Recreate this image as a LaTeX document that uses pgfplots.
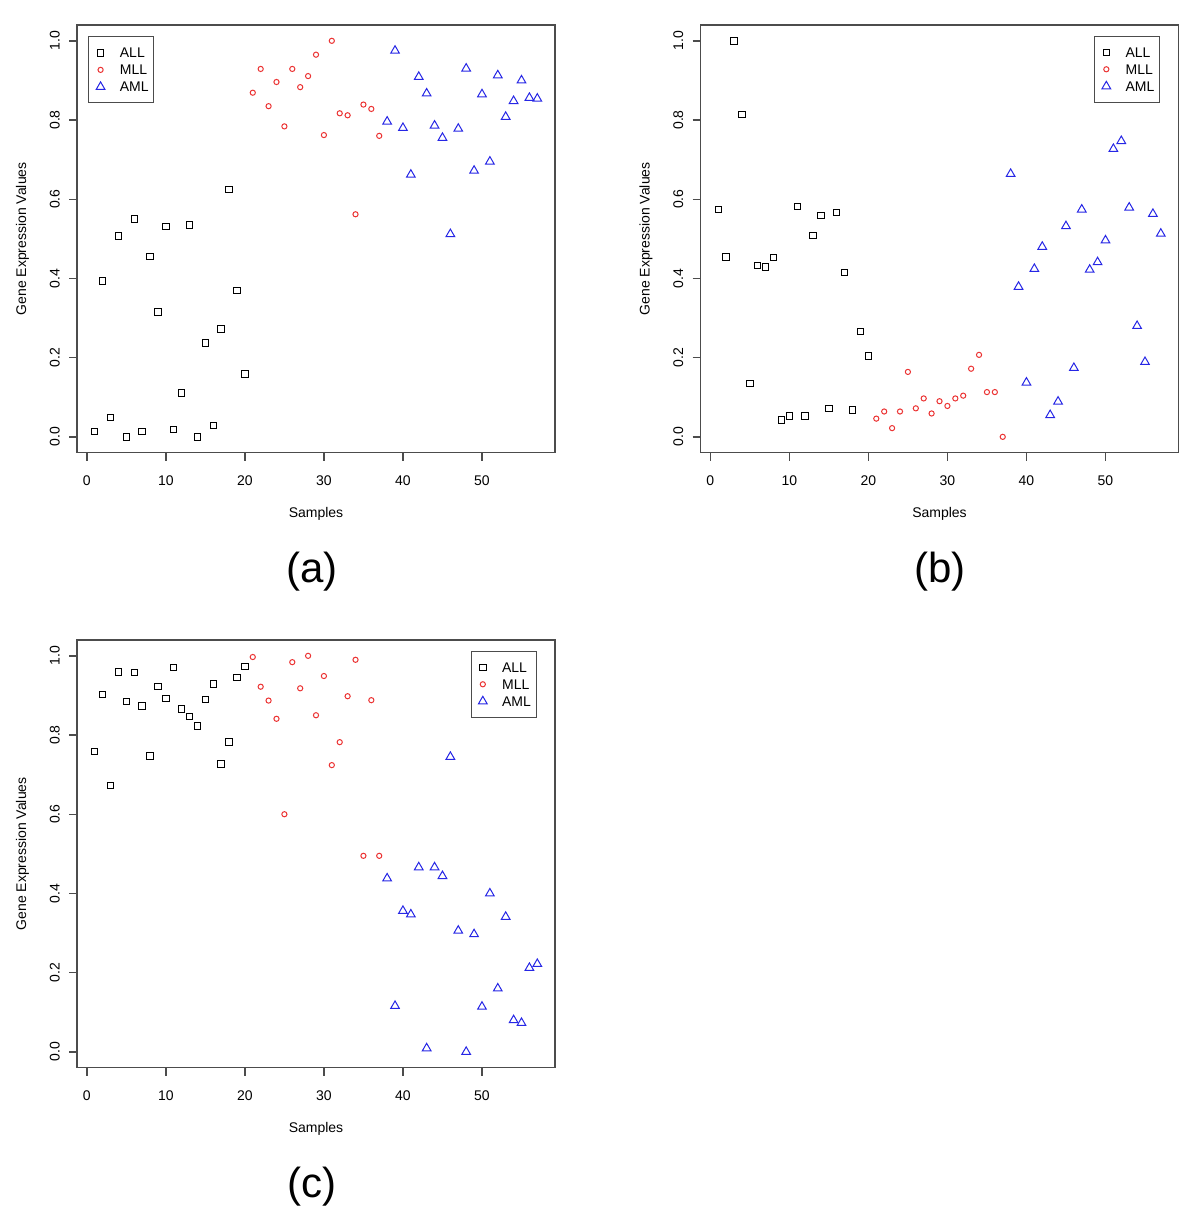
\documentclass[border=0pt]{standalone}
\usepackage{fontspec}
\setmainfont{Liberation Sans}
\usepackage{pgfplots}
\pgfplotsset{compat=1.18}

\definecolor{rred}{rgb}{0.92,0.20,0.20}
\definecolor{rblue}{rgb}{0.15,0.15,0.90}
\definecolor{boxgray}{gray}{0.30}

\pgfplotsset{
  rplot/.style={
    scale only axis, width=239pt, height=213.85pt,
    xmin=-1.24, xmax=59.24, ymin=-0.04, ymax=1.04,
    xtick={0,10,20,30,40,50}, ytick={0,0.2,0.4,0.6,0.8,1},
    yticklabel style={/pgf/number format/fixed,
      /pgf/number format/fixed zerofill, /pgf/number format/precision=1},
    tick pos=left, tick align=outside, major tick length=4pt,
    axis line style={boxgray, line width=0.7pt},
    major tick style={boxgray, line width=0.7pt},
    tick label style={font=\fontsize{7}{8}\selectfont, inner sep=0pt},
    /pgf/number format/assume math mode=true,
    xticklabel style={anchor=north, text depth=0pt},
    yticklabel style={rotate=90, anchor=south, text depth=0pt},
    xticklabel shift=7.5pt, yticklabel shift=4.5pt,
    xlabel=Samples, ylabel=Gene Expression Values,
    every axis x label/.style={at={(axis description cs:0.5,-0.142)}, anchor=center,
      font=\fontsize{7}{8}\selectfont},
    every axis y label/.style={at={(axis description cs:-0.114,0.5)}, anchor=center,
      rotate=90, font=\fontsize{7}{8}\selectfont},
    legend cell align=left,
    legend style={draw=boxgray, line width=0.6pt, fill=white,
      inner xsep=2.6pt, inner ysep=3.75pt, row sep=0pt,
      nodes={inner sep=0pt, text height=6.75pt, text depth=1.75pt,
        font=\fontsize{7}{8}\selectfont}},
  },
  rleg/.style={legend image code/.code={
      \path[draw=none, fill=none] (-3.25pt,-4.25pt) rectangle (9.65pt,4.25pt);
      \draw[##1] plot coordinates {(0pt,0pt)};}},
  sALL/.style={only marks, mark=square, mark size=1.6pt, black, line width=0.5pt, rleg},
  sMLL/.style={only marks, mark=o, mark size=1.3pt, rred, line width=0.5pt, rleg},
  sAML/.style={only marks, mark=triangle, mark size=2.5pt, rblue, line width=0.5pt, rleg},
}

\begin{document}
\begin{tikzpicture}
\useasboundingbox (0,0) rectangle (600pt,612pt);

% (a)
\begin{axis}[rplot, at={(38.5pt,385.65pt)}, anchor=south west,
  legend style={at={(0.0236,0.9736)}, anchor=north west}]
\addplot[sALL] coordinates {(1,0.014)(2,0.394)(3,0.049)(4,0.507)(5,0.0)(6,0.550)(7,0.014)(8,0.456)(9,0.315)(10,0.531)(11,0.018)(12,0.111)(13,0.535)(14,0.0)(15,0.237)(16,0.028)(17,0.272)(18,0.625)(19,0.369)(20,0.159)};
\addlegendentry{ALL}
\addplot[sMLL] coordinates {(21,0.869)(22,0.929)(23,0.835)(24,0.896)(25,0.784)(26,0.929)(27,0.883)(28,0.911)(29,0.965)(30,0.762)(31,1.0)(32,0.817)(33,0.812)(34,0.562)(35,0.839)(36,0.828)(37,0.760)};
\addlegendentry{MLL}
\addplot[sAML] coordinates {(38,0.796)(39,0.975)(40,0.780)(41,0.662)(42,0.909)(43,0.867)(44,0.786)(45,0.755)(46,0.512)(47,0.778)(48,0.930)(49,0.672)(50,0.865)(51,0.695)(52,0.913)(53,0.808)(54,0.848)(55,0.900)(56,0.856)(57,0.854)};
\addlegendentry{AML}
\end{axis}

% (b)
\begin{axis}[rplot, at={(350.25pt,385.65pt)}, anchor=south west,
  legend style={at={(0.9617,0.975)}, anchor=north east}]
\addplot[sALL] coordinates {(1,0.574)(2,0.454)(3,1.0)(4,0.814)(5,0.135)(6,0.433)(7,0.429)(8,0.453)(9,0.043)(10,0.053)(11,0.581)(12,0.053)(13,0.509)(14,0.559)(15,0.071)(16,0.566)(17,0.415)(18,0.068)(19,0.266)(20,0.204)};
\addlegendentry{ALL}
\addplot[sMLL] coordinates {(21,0.046)(22,0.064)(23,0.022)(24,0.064)(25,0.164)(26,0.072)(27,0.097)(28,0.059)(29,0.090)(30,0.078)(31,0.097)(32,0.104)(33,0.172)(34,0.207)(35,0.113)(36,0.113)(37,0.0)};
\addlegendentry{MLL}
\addplot[sAML] coordinates {(38,0.664)(39,0.379)(40,0.137)(41,0.424)(42,0.480)(43,0.055)(44,0.089)(45,0.532)(46,0.174)(47,0.574)(48,0.422)(49,0.441)(50,0.496)(51,0.727)(52,0.747)(53,0.579)(54,0.280)(55,0.189)(56,0.563)(57,0.513)};
\addlegendentry{AML}
\end{axis}

% (c)
\begin{axis}[rplot, at={(38.5pt,78.15pt)}, anchor=south west,
  legend style={at={(0.9617,0.975)}, anchor=north east}]
\addplot[sALL] coordinates {(1,0.758)(2,0.902)(3,0.673)(4,0.959)(5,0.885)(6,0.958)(7,0.873)(8,0.747)(9,0.923)(10,0.892)(11,0.971)(12,0.866)(13,0.847)(14,0.823)(15,0.890)(16,0.929)(17,0.727)(18,0.782)(19,0.945)(20,0.973)};
\addlegendentry{ALL}
\addplot[sMLL] coordinates {(21,0.997)(22,0.922)(23,0.887)(24,0.841)(25,0.600)(26,0.984)(27,0.918)(28,1.0)(29,0.850)(30,0.949)(31,0.724)(32,0.782)(33,0.898)(34,0.990)(35,0.495)(36,0.888)(37,0.495)};
\addlegendentry{MLL}
\addplot[sAML] coordinates {(38,0.438)(39,0.116)(40,0.356)(41,0.347)(42,0.466)(43,0.009)(44,0.466)(45,0.444)(46,0.745)(47,0.306)(48,0.0)(49,0.297)(50,0.114)(51,0.400)(52,0.160)(53,0.341)(54,0.080)(55,0.073)(56,0.212)(57,0.222)};
\addlegendentry{AML}
\end{axis}

\node[font=\fontsize{21}{25}\selectfont, anchor=base] at (156pt,320.65pt) {(a)};
\node[font=\fontsize{21}{25}\selectfont, anchor=base] at (470pt,320.65pt) {(b)};
\node[font=\fontsize{21}{25}\selectfont, anchor=base] at (156pt,13.45pt) {(c)};
\end{tikzpicture}
\end{document}
